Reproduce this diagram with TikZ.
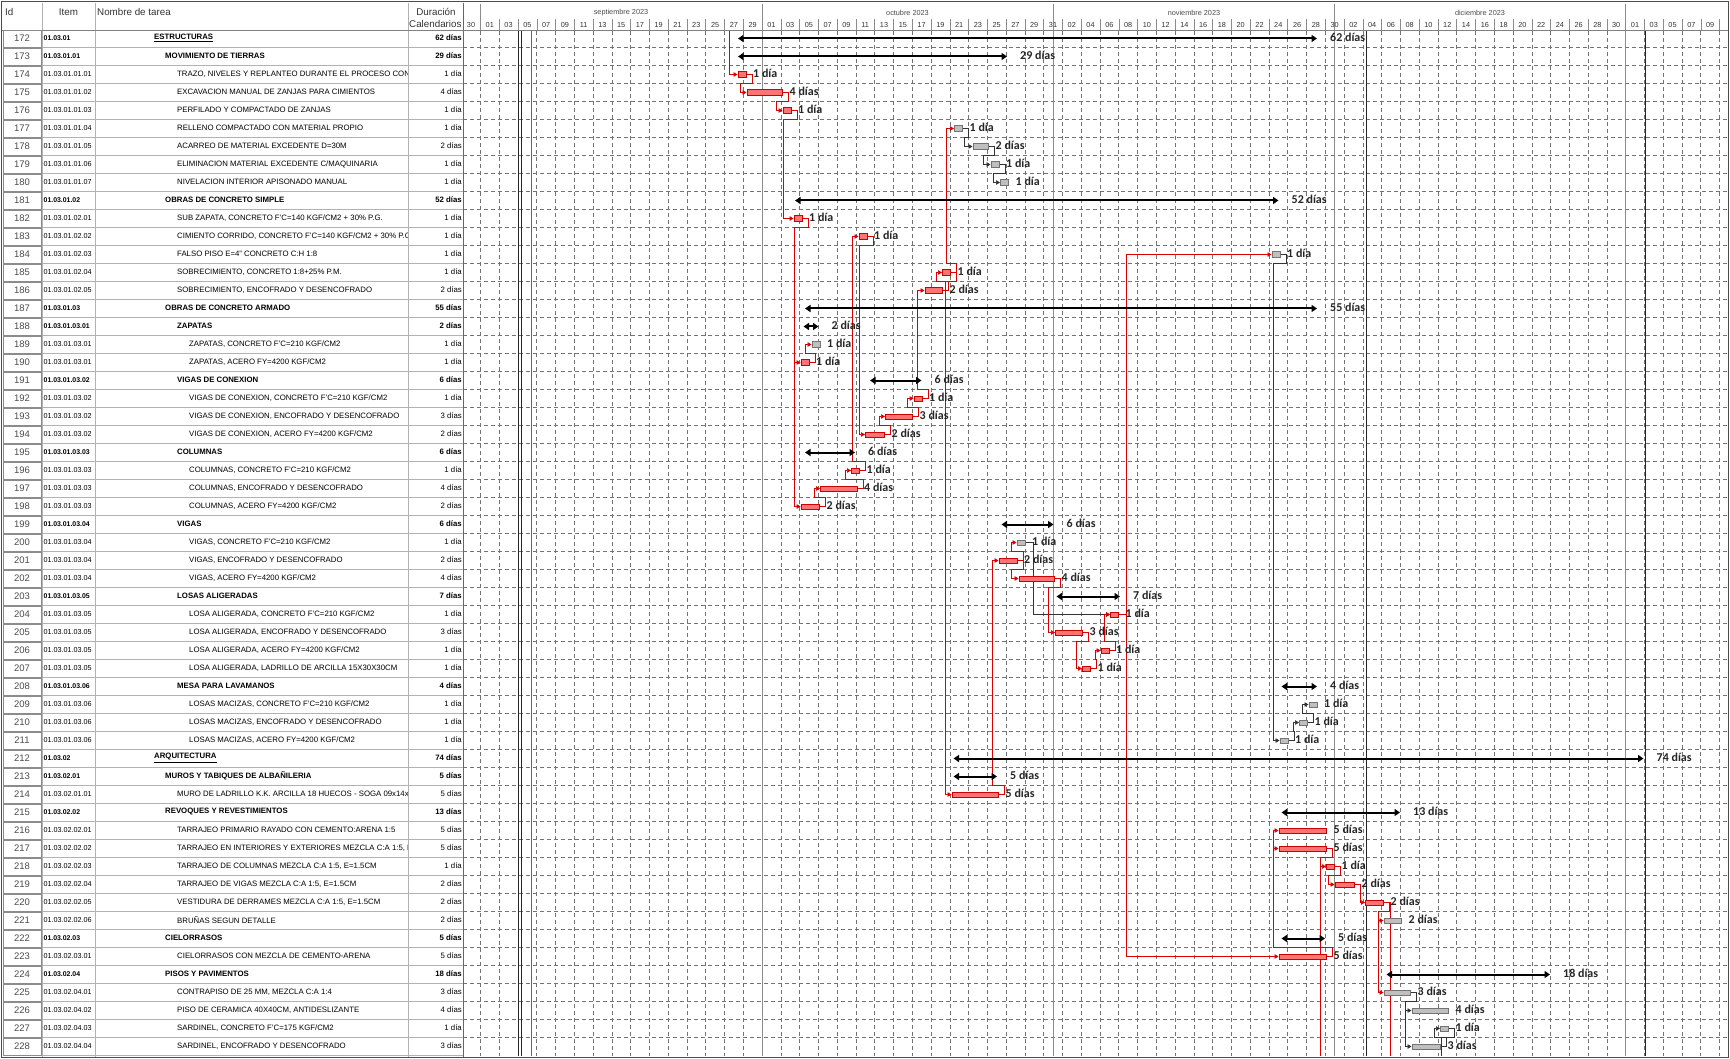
\documentclass[tikz,border=0pt]{standalone}
\usepackage{fontspec}
\setmainfont{Liberation Sans}
\newfontfamily\labfont{Carlito}
\usetikzlibrary{arrows.meta,calc}
\pgfdeclarelayer{bgl}
\pgfdeclarelayer{gridl}
\pgfdeclarelayer{linkl}
\pgfsetlayers{bgl,gridl,linkl,main}
\newcommand{\ry}[1]{(38.5+18*(#1-172))}
\newcommand{\tbar}[5]{%
  \node[#1,minimum width={#4pt-#3pt},anchor=west] (b#2) at ({#3},{\ry{#2}}) {};
  \node[dlab,anchor=west] (l#2) at ([xshift=7pt,yshift=1pt]b#2.east) {#5};}
\newcommand{\sbar}[4]{%
  \coordinate (sa#1) at ({#2},{\ry{#1}});
  \coordinate (sb#1) at ({#3},{\ry{#1}});
  \draw[summ] (sa#1) -- (sb#1);
  \node[dlab,anchor=west] (l#1) at ([xshift=13pt,yshift=1pt]sb#1) {#4};}
\newcommand{\trow}[4]{%
  \node[idcell] (id#1) at (22,{\ry{#1}}) {#1};
  \node[icell,#4i,anchor=west] (it#1) at (43.5,{\ry{#1}-0.5}) {#2};
  \node[tcell,#4,anchor=east] (du#1) at (462,{\ry{#1}-0.5}) {#3};}
\newcommand{\tname}[4]{%
  \node[tcell,#4,anchor=west] (nm#1) at (#2,{\ry{#1}-0.5}) {#3};}
\newcommand{\lnkS}[5]{\draw[#1] (#2.east) -- ++(6,0) -- ++(0,#4) -| ([xshift=-#5pt]#3.west) -- (#3.west);}
\newcommand{\lnkD}[3]{\draw[#1] (#2.east) -- ++(8,0) |- (#3.west);}
\begin{document}
\begin{tikzpicture}[x=1pt,y=-1pt,
  tcell/.style={inner sep=0pt,font=\fontsize{7.8}{9}\selectfont},
  icell/.style={inner sep=0pt,font=\fontsize{7.2}{9}\selectfont},
  tsum/.style={font=\fontsize{7.8}{9}\selectfont\bfseries},
  tplain/.style={},
  tsumi/.style={font=\fontsize{6.9}{9}\selectfont\bfseries},
  tplaini/.style={},
  idcell/.style={draw=black!45,fill=white,minimum width=38pt,minimum height=17pt,inner sep=0pt,font=\fontsize{9.5}{10}\selectfont,text=black!70},
  hdr/.style={inner sep=0pt,font=\fontsize{9.8}{11}\selectfont,text=black!80},
  daylab/.style={inner sep=0pt,font=\fontsize{7.3}{8}\selectfont,text=black!80},
  monlab/.style={inner sep=0pt,font=\fontsize{7.3}{8}\selectfont,text=black!70},
  dlab/.style={inner sep=0pt,font=\labfont\bfseries\fontsize{12}{13}\selectfont,text=black!85},
  cbar/.style={rectangle,draw=red!80!black,fill=red!55,line width=0.5pt,minimum height=5.5pt,inner sep=0pt},
  nbar/.style={rectangle,draw=black!55,fill=black!25,line width=0.5pt,minimum height=5.5pt,inner sep=0pt},
  summ/.style={line width=2pt,black,arrows={Triangle[length=5.5pt,width=7pt]-Triangle[length=5.5pt,width=7pt]}},
  clink/.style={draw=red!85!black,line width=0.7pt,arrows={-Triangle[length=4pt,width=4.5pt]}},
  nlink/.style={draw=black!80,line width=0.6pt,arrows={-Triangle[length=4pt,width=4.5pt]}},
  clinkp/.style={draw=red!85!black,line width=0.7pt},
  nlinkp/.style={draw=black!80,line width=0.6pt},
  tgrid/.style={black!30,line width=0.5pt},
  cgrid/.style={black!55,line width=0.5pt,dash pattern=on 4pt off 3pt},
  monline/.style={black!45,line width=0.8pt},
  markline/.style={black!85,line width=0.9pt}]
\useasboundingbox (0,0) rectangle (1730,1059);
\begin{pgfonlayer}{bgl}
\fill[white] (0,0) rectangle (1730,1059);
\end{pgfonlayer}

% ---------- chart grid ----------
\begin{pgfonlayer}{gridl}
\foreach \k in {0,...,66} \draw[cgrid] ({480.4+18.774*\k},31) -- ({480.4+18.774*\k},1056);
\foreach \k in {1,...,56} \draw[cgrid] (463,{29.5+18*\k}) -- (1727,{29.5+18*\k});
\foreach \xx in {762,1053,1334.6,1625.6} \draw[monline] (\xx,31) -- (\xx,1056);
\draw[markline] (518.5,31) -- (518.5,1056);
\draw[markline] (521.5,31) -- (521.5,1056);
\draw[black!60,line width=0.8pt] (531,31) -- (531,1056);
\draw[markline] (1366.5,31) -- (1366.5,1056);
\draw[markline] (1645,31) -- (1645,1056);
% table grid
\foreach \k in {1,...,57} \draw[tgrid] (42,{29.5+18*\k}) -- (463,{29.5+18*\k});
\foreach \xx in {42,95,408} \draw[tgrid] (\xx,3) -- (\xx,1057);
\draw[black!60,line width=0.8pt] (463,3) -- (463,1057);
% header
\draw[black!50] (1.5,30.5) -- (1728.5,30.5);
\foreach \k in {0,...,66} \draw[black!45] ({480.4+18.774*\k},19.5) -- ++(0,11);
\foreach \xx in {480.4,762,1053,1334.6,1625.6} \draw[black!45] (\xx,4) -- (\xx,30.5);
\end{pgfonlayer}

\node[monlab] (m9) at (621,13) {septiembre 2023};
\node[monlab] (m10) at (907.5,13) {octubre 2023};
\node[monlab] (m11) at (1194,13) {noviembre 2023};
\node[monlab] (m12) at (1480,13) {diciembre 2023};
\foreach \t [count=\k from 0] in {30,01,03,05,07,09,11,13,15,17,19,21,23,25,27,29,01,03,05,07,09,11,13,15,17,19,21,23,25,27,29,31,02,04,06,08,10,12,14,16,18,20,22,24,26,28,30,02,04,06,08,10,12,14,16,18,20,22,24,26,28,30,01,03,05,07,09}
  \node[daylab] (dl\k) at ({471+18.774*\k},25) {\t};

\node[hdr,anchor=west] (hid) at (5,12) {Id};
\node[hdr] (hit) at (68.5,12) {Item};
\node[hdr,anchor=west] (hnm) at (97,12) {Nombre de tarea};
\node[hdr] (hdu) at (436,11.5) {Duración};
\node[hdr,anchor=west] (hca) at (409,24.5) {Calendarios};

% ---------- table ----------
\trow{172}{01.03.01}{62 días}{tsum}
\trow{173}{01.03.01.01}{29 días}{tsum}
\trow{174}{01.03.01.01.01}{1 día}{tplain}
\trow{175}{01.03.01.01.02}{4 días}{tplain}
\trow{176}{01.03.01.01.03}{1 día}{tplain}
\trow{177}{01.03.01.01.04}{1 día}{tplain}
\trow{178}{01.03.01.01.05}{2 días}{tplain}
\trow{179}{01.03.01.01.06}{1 día}{tplain}
\trow{180}{01.03.01.01.07}{1 día}{tplain}
\trow{181}{01.03.01.02}{52 días}{tsum}
\trow{182}{01.03.01.02.01}{1 día}{tplain}
\trow{183}{01.03.01.02.02}{1 día}{tplain}
\trow{184}{01.03.01.02.03}{1 día}{tplain}
\trow{185}{01.03.01.02.04}{1 día}{tplain}
\trow{186}{01.03.01.02.05}{2 días}{tplain}
\trow{187}{01.03.01.03}{55 días}{tsum}
\trow{188}{01.03.01.03.01}{2 días}{tsum}
\trow{189}{01.03.01.03.01}{1 día}{tplain}
\trow{190}{01.03.01.03.01}{1 día}{tplain}
\trow{191}{01.03.01.03.02}{6 días}{tsum}
\trow{192}{01.03.01.03.02}{1 día}{tplain}
\trow{193}{01.03.01.03.02}{3 días}{tplain}
\trow{194}{01.03.01.03.02}{2 días}{tplain}
\trow{195}{01.03.01.03.03}{6 días}{tsum}
\trow{196}{01.03.01.03.03}{1 día}{tplain}
\trow{197}{01.03.01.03.03}{4 días}{tplain}
\trow{198}{01.03.01.03.03}{2 días}{tplain}
\trow{199}{01.03.01.03.04}{6 días}{tsum}
\trow{200}{01.03.01.03.04}{1 día}{tplain}
\trow{201}{01.03.01.03.04}{2 días}{tplain}
\trow{202}{01.03.01.03.04}{4 días}{tplain}
\trow{203}{01.03.01.03.05}{7 días}{tsum}
\trow{204}{01.03.01.03.05}{1 día}{tplain}
\trow{205}{01.03.01.03.05}{3 días}{tplain}
\trow{206}{01.03.01.03.05}{1 día}{tplain}
\trow{207}{01.03.01.03.05}{1 día}{tplain}
\trow{208}{01.03.01.03.06}{4 días}{tsum}
\trow{209}{01.03.01.03.06}{1 día}{tplain}
\trow{210}{01.03.01.03.06}{1 día}{tplain}
\trow{211}{01.03.01.03.06}{1 día}{tplain}
\trow{212}{01.03.02}{74 días}{tsum}
\trow{213}{01.03.02.01}{5 días}{tsum}
\trow{214}{01.03.02.01.01}{5 días}{tplain}
\trow{215}{01.03.02.02}{13 días}{tsum}
\trow{216}{01.03.02.02.01}{5 días}{tplain}
\trow{217}{01.03.02.02.02}{5 días}{tplain}
\trow{218}{01.03.02.02.03}{1 día}{tplain}
\trow{219}{01.03.02.02.04}{2 días}{tplain}
\trow{220}{01.03.02.02.05}{2 días}{tplain}
\trow{221}{01.03.02.02.06}{2 días}{tplain}
\trow{222}{01.03.02.03}{5 días}{tsum}
\trow{223}{01.03.02.03.01}{5 días}{tplain}
\trow{224}{01.03.02.04}{18 días}{tsum}
\trow{225}{01.03.02.04.01}{3 días}{tplain}
\trow{226}{01.03.02.04.02}{4 días}{tplain}
\trow{227}{01.03.02.04.03}{1 día}{tplain}
\trow{228}{01.03.02.04.04}{3 días}{tplain}

\begin{scope}
\clip (95,0) rectangle (407.5,1059);
\tname{172}{154}{\underline{ESTRUCTURAS}}{tsum}
\tname{173}{165}{MOVIMIENTO DE TIERRAS}{tsum}
\tname{174}{177}{TRAZO, NIVELES Y REPLANTEO DURANTE EL PROCESO CON}{tplain}
\tname{175}{177}{EXCAVACION MANUAL DE ZANJAS PARA CIMIENTOS}{tplain}
\tname{176}{177}{PERFILADO Y COMPACTADO DE ZANJAS}{tplain}
\tname{177}{177}{RELLENO COMPACTADO CON MATERIAL PROPIO}{tplain}
\tname{178}{177}{ACARREO DE MATERIAL EXCEDENTE D=30M}{tplain}
\tname{179}{177}{ELIMINACION MATERIAL EXCEDENTE C/MAQUINARIA}{tplain}
\tname{180}{177}{NIVELACION INTERIOR APISONADO MANUAL}{tplain}
\tname{181}{165}{OBRAS DE CONCRETO SIMPLE}{tsum}
\tname{182}{177}{SUB ZAPATA, CONCRETO F'C=140 KGF/CM2 + 30\% P.G.}{tplain}
\tname{183}{177}{CIMIENTO CORRIDO, CONCRETO F'C=140 KGF/CM2 + 30\% P.G}{tplain}
\tname{184}{177}{FALSO PISO E=4" CONCRETO C:H 1:8}{tplain}
\tname{185}{177}{SOBRECIMIENTO, CONCRETO 1:8+25\% P.M.}{tplain}
\tname{186}{177}{SOBRECIMIENTO, ENCOFRADO Y DESENCOFRADO}{tplain}
\tname{187}{165}{OBRAS DE CONCRETO ARMADO}{tsum}
\tname{188}{177}{ZAPATAS}{tsum}
\tname{189}{189}{ZAPATAS, CONCRETO F'C=210 KGF/CM2}{tplain}
\tname{190}{189}{ZAPATAS, ACERO FY=4200 KGF/CM2}{tplain}
\tname{191}{177}{VIGAS DE CONEXION}{tsum}
\tname{192}{189}{VIGAS DE CONEXION, CONCRETO F'C=210 KGF/CM2}{tplain}
\tname{193}{189}{VIGAS DE CONEXION, ENCOFRADO Y DESENCOFRADO}{tplain}
\tname{194}{189}{VIGAS DE CONEXION, ACERO FY=4200 KGF/CM2}{tplain}
\tname{195}{177}{COLUMNAS}{tsum}
\tname{196}{189}{COLUMNAS, CONCRETO F'C=210 KGF/CM2}{tplain}
\tname{197}{189}{COLUMNAS, ENCOFRADO Y DESENCOFRADO}{tplain}
\tname{198}{189}{COLUMNAS, ACERO FY=4200 KGF/CM2}{tplain}
\tname{199}{177}{VIGAS}{tsum}
\tname{200}{189}{VIGAS, CONCRETO F'C=210 KGF/CM2}{tplain}
\tname{201}{189}{VIGAS, ENCOFRADO Y DESENCOFRADO}{tplain}
\tname{202}{189}{VIGAS, ACERO FY=4200 KGF/CM2}{tplain}
\tname{203}{177}{LOSAS ALIGERADAS}{tsum}
\tname{204}{189}{LOSA ALIGERADA, CONCRETO F'C=210 KGF/CM2}{tplain}
\tname{205}{189}{LOSA ALIGERADA, ENCOFRADO Y DESENCOFRADO}{tplain}
\tname{206}{189}{LOSA ALIGERADA, ACERO FY=4200 KGF/CM2}{tplain}
\tname{207}{189}{LOSA ALIGERADA, LADRILLO DE ARCILLA 15X30X30CM}{tplain}
\tname{208}{177}{MESA PARA LAVAMANOS}{tsum}
\tname{209}{189}{LOSAS MACIZAS, CONCRETO F'C=210 KGF/CM2}{tplain}
\tname{210}{189}{LOSAS MACIZAS, ENCOFRADO Y DESENCOFRADO}{tplain}
\tname{211}{189}{LOSAS MACIZAS, ACERO FY=4200 KGF/CM2}{tplain}
\tname{212}{154}{\underline{ARQUITECTURA}}{tsum}
\tname{213}{165}{MUROS Y TABIQUES DE ALBAÑILERIA}{tsum}
\tname{214}{177}{MURO DE LADRILLO K.K. ARCILLA 18 HUECOS - SOGA 09x14x}{tplain}
\tname{215}{165}{REVOQUES Y REVESTIMIENTOS}{tsum}
\tname{216}{177}{TARRAJEO PRIMARIO RAYADO CON CEMENTO:ARENA 1:5}{tplain}
\tname{217}{177}{TARRAJEO EN INTERIORES Y EXTERIORES MEZCLA C:A 1:5, E}{tplain}
\tname{218}{177}{TARRAJEO DE COLUMNAS MEZCLA C:A 1:5, E=1.5CM}{tplain}
\tname{219}{177}{TARRAJEO DE VIGAS MEZCLA C:A 1:5, E=1.5CM}{tplain}
\tname{220}{177}{VESTIDURA DE DERRAMES MEZCLA C:A 1:5, E=1.5CM}{tplain}
\tname{221}{177}{BRUÑAS SEGUN DETALLE}{tplain}
\tname{222}{165}{CIELORRASOS}{tsum}
\tname{223}{177}{CIELORRASOS CON MEZCLA DE CEMENTO-ARENA}{tplain}
\tname{224}{165}{PISOS Y PAVIMENTOS}{tsum}
\tname{225}{177}{CONTRAPISO DE 25 MM, MEZCLA C:A 1:4}{tplain}
\tname{226}{177}{PISO DE CERAMICA 40X40CM, ANTIDESLIZANTE}{tplain}
\tname{227}{177}{SARDINEL, CONCRETO F'C=175 KGF/CM2}{tplain}
\tname{228}{177}{SARDINEL, ENCOFRADO Y DESENCOFRADO}{tplain}
\end{scope}

% ---------- summaries ----------
\sbar{172}{738}{1317}{62 días}
\sbar{173}{738}{1007}{29 días}
\sbar{181}{795}{1278.5}{52 días}
\sbar{187}{805}{1317}{55 días}
\sbar{188}{803.5}{818.5}{2 días}
\sbar{191}{870}{921.5}{6 días}
\sbar{195}{805}{855}{6 días}
\sbar{199}{1001.5}{1053.5}{6 días}
\sbar{203}{1056.5}{1120}{7 días}
\sbar{208}{1281.5}{1317}{4 días}
\sbar{212}{953.5}{1643.5}{74 días}
\sbar{213}{953.5}{997}{5 días}
\sbar{215}{1281.5}{1400}{13 días}
\sbar{222}{1281.5}{1325}{5 días}
\sbar{224}{1386.5}{1550}{18 días}

% ---------- task bars ----------
\tbar{cbar}{174}{737.5}{745.5}{1 día}
\tbar{cbar}{175}{746.5}{782}{4 días}
\tbar{cbar}{176}{782.5}{790.5}{1 día}
\tbar{nbar}{177}{954}{962}{1 día}
\tbar{nbar}{178}{972.5}{988}{2 días}
\tbar{nbar}{179}{990.5}{998.5}{1 día}
\tbar{nbar}{180}{1000}{1008}{1 día}
\tbar{cbar}{182}{793.5}{801.5}{1 día}
\tbar{cbar}{183}{858.5}{866.5}{1 día}
\tbar{nbar}{184}{1271.5}{1279.5}{1 día}
\tbar{cbar}{185}{942}{950}{1 día}
\tbar{cbar}{186}{924.5}{942}{2 días}
\tbar{nbar}{189}{811.5}{819.5}{1 día}
\tbar{cbar}{190}{800.5}{808.5}{1 día}
\tbar{cbar}{192}{913.5}{921.5}{1 día}
\tbar{cbar}{193}{885}{912}{3 días}
\tbar{cbar}{194}{865}{884}{2 días}
\tbar{cbar}{196}{851}{859}{1 día}
\tbar{cbar}{197}{820}{856.5}{4 días}
\tbar{cbar}{198}{800.5}{819}{2 días}
\tbar{nbar}{200}{1016.5}{1024.5}{1 día}
\tbar{cbar}{201}{998.5}{1016.5}{2 días}
\tbar{cbar}{202}{1018.5}{1054}{4 días}
\tbar{cbar}{204}{1110}{1118}{1 día}
\tbar{cbar}{205}{1055}{1082}{3 días}
\tbar{cbar}{206}{1100.5}{1108.5}{1 día}
\tbar{cbar}{207}{1082}{1090}{1 día}
\tbar{nbar}{209}{1308.5}{1316.5}{1 día}
\tbar{nbar}{210}{1299}{1307}{1 día}
\tbar{nbar}{211}{1279.5}{1287.5}{1 día}
\tbar{cbar}{214}{951.5}{998}{5 días}
\tbar{cbar}{216}{1278.5}{1326}{5 días}
\tbar{cbar}{217}{1278.5}{1326}{5 días}
\tbar{cbar}{218}{1326}{1334}{1 día}
\tbar{cbar}{219}{1334.5}{1354}{2 días}
\tbar{cbar}{220}{1365}{1383}{2 días}
\tbar{nbar}{221}{1383.5}{1401}{2 días}
\tbar{cbar}{223}{1278.5}{1326}{5 días}
\tbar{nbar}{225}{1383.5}{1410}{3 días}
\tbar{nbar}{226}{1411.5}{1448}{4 días}
\tbar{nbar}{227}{1440}{1448}{1 día}
\tbar{nbar}{228}{1411.5}{1440}{3 días}

% ---------- links ----------
\coordinate (top174) at (729.3,31);
\coordinate (off217) at (1320,1056);
\coordinate (off220) at (1390,1056);
\coordinate (off227) at (1441.7,1056);
\begin{pgfonlayer}{linkl}
\draw[clink] (top174) |- (b174.west);
\lnkS{clink}{b174}{b175}{9}{6}
\lnkS{clink}{b175}{b176}{9}{6}
\lnkS{clink}{b176}{b182}{9}{10}
\lnkS{clink}{b182}{b190}{9}{6}
\lnkS{clink}{b182}{b198}{9}{6}
\lnkS{clink}{b190}{b189}{-9}{6}
\lnkS{clink}{b198}{b197}{-9}{6}
\lnkS{clink}{b197}{b196}{-9}{6}
\lnkS{clink}{b196}{b183}{-9}{6}
\lnkS{clink}{b183}{b194}{9}{6}
\lnkS{clink}{b194}{b193}{-9}{6}
\lnkS{clink}{b193}{b192}{-9}{6}
\lnkS{clink}{b192}{b186}{-9}{7}
\lnkS{clink}{b186}{b185}{-9}{6}
\lnkS{clink}{b185}{b177}{-9}{8}
\lnkS{clink}{b185}{b214}{9}{6}
\lnkS{nlink}{b177}{b178}{9}{8}
\lnkS{nlink}{b178}{b179}{9}{7}
\lnkS{nlink}{b179}{b180}{9}{7}
\lnkS{clink}{b214}{b201}{-9}{6}
\lnkS{clink}{b201}{b200}{-9}{5}
\lnkS{clink}{b201}{b202}{9}{7}
\lnkD{nlink}{b200}{b204}
\lnkS{clink}{b202}{b205}{9}{7}
\lnkS{clink}{b205}{b207}{9}{6}
\lnkS{clink}{b207}{b206}{-9}{5}
\lnkS{clink}{b206}{b204}{-9}{6}
\lnkD{clink}{b204}{b184}
\lnkD{clink}{b204}{b223}
\lnkS{nlink}{b184}{b211}{9}{6}
\lnkS{nlink}{b211}{b210}{-9}{6}
\lnkS{nlink}{b210}{b209}{-9}{6}
\lnkS{clink}{b223}{b216}{-9}{5}
\lnkS{clink}{b223}{b217}{-9}{5}
\lnkS{clink}{b217}{b218}{9}{6}
\lnkS{clink}{b218}{b219}{9}{6}
\lnkS{clink}{b219}{b220}{9}{5}
\lnkS{clink}{b220}{b221}{9}{5}
\lnkS{clink}{b220}{b225}{9}{5}
\lnkS{nlink}{b225}{b226}{9}{6}
\lnkS{nlink}{b225}{b228}{9}{6}
\lnkS{nlink}{b228}{b227}{-9}{6}
\draw[clinkp] (b217.east) -- ++(6,0) -- ++(0,9) -| (off217);
\draw[clinkp] (b220.east) -| (off220);
\draw[nlinkp] (b227.east) -- ++(6,0) -- ++(0,9) -| (off227);
\end{pgfonlayer}

% frame
\draw[black!70,line width=1.2pt] (1.5,1.5) rectangle (1728.5,1057.5);
\end{tikzpicture}
\end{document}
